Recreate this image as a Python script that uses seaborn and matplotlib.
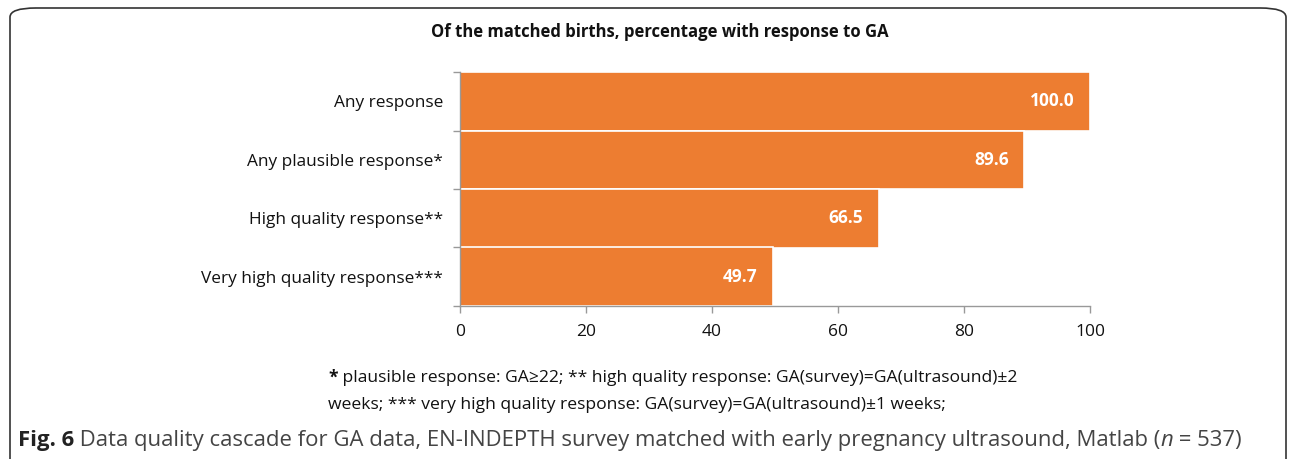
import matplotlib
matplotlib.use("Agg")
import matplotlib.pyplot as plt
import seaborn as sns
import pandas as pd
from matplotlib.patches import FancyBboxPatch

categories = ["Any response", "Any plausible response*", "High quality response**",
              "Very high quality response***"]
values = [100.0, 89.6, 66.5, 49.7]
xticks = [0, 20, 40, 60, 80, 100]

title = "Of the matched births, percentage with response to GA"
foot1 = " plausible response: GA\u226522; ** high quality response: GA(survey)=GA(ultrasound)\u00b12"
foot2 = "weeks; *** very high quality response: GA(survey)=GA(ultrasound)\u00b11 weeks;"

sns.set_theme(style="white")
plt.rcParams["font.family"] = ["Open Sans", "DejaVu Sans"]

df = pd.DataFrame({"cat": categories, "val": values})

fig = plt.figure(figsize=(12.92, 4.59), dpi=100)
ax = fig.add_axes([460/1292, 1-306/459, 630/1292, 234/459])
sns.barplot(data=df, y="cat", x="val", orient="h", color="#ED7D31", saturation=1,
            width=1.0, edgecolor="white", linewidth=1.2, ax=ax)

ax.set_xlim(0, 100)
ax.set_ylim(len(categories) - 0.5, -0.5)
ax.set_xticks(xticks)
ax.set_xticklabels([str(t) for t in xticks], fontsize=12.5, color="#111111")
ax.set_yticks(range(len(categories)))
ax.set_yticklabels(categories, fontsize=12.4, color="#111111")
ax.tick_params(axis="y", length=0, pad=12)
ax.set_yticks([i - 0.5 for i in range(len(categories) + 1)], minor=True)
ax.tick_params(axis="y", which="minor", length=5, color="#999999", width=1, left=True)
ax.tick_params(axis="x", length=5, color="#999999", width=1, bottom=True, pad=8)
ax.set_xlabel("")
ax.set_ylabel("")
for s in ["top", "right"]:
    ax.spines[s].set_visible(False)
for s in ["left", "bottom"]:
    ax.spines[s].set_color("#999999")
    ax.spines[s].set_linewidth(1)

for i, v in enumerate(values):
    ax.text(v - 2.5, i, f"{v:.1f}", ha="right", va="center", color="white",
            fontsize=12.5, fontweight="bold")

fig.text(660/1292, 1-32/459, title, ha="center", va="center", fontsize=12,
         fontweight="bold", color="#111111")

fig.text(328/1292, 1-378/459, "*", ha="left", va="center", fontsize=12.6,
         fontweight="bold", color="#111111")
fig.text(338/1292, 1-378/459, foot1, ha="left", va="center", fontsize=12.6, color="#111111")
fig.text(328/1292, 1-405/459, foot2, ha="left", va="center", fontsize=12.6, color="#111111")

cy = 1-446/459
cs = 15.9
c1 = fig.text(18/1292, cy, "Fig. 6", ha="left", va="baseline", fontsize=cs,
              fontweight="bold", color="#222222")
c2 = fig.text(0, 0, " Data quality cascade for GA data, EN-INDEPTH survey matched with early pregnancy ultrasound, Matlab (",
              fontsize=cs, color="#444444", va="baseline")
fig.canvas.draw()
r = fig.canvas.get_renderer()
bb = c1.get_window_extent(r)
c2.set_position((bb.x1 / fig.bbox.width, cy))
bb2 = c2.get_window_extent(r)
c3 = fig.text(bb2.x1 / fig.bbox.width, cy, "n", fontsize=cs, color="#444444",
              va="baseline", style="italic")
bb3 = c3.get_window_extent(r)
fig.text(bb3.x1 / fig.bbox.width, cy, " = 537)", fontsize=cs, color="#444444",
         va="baseline")

box = FancyBboxPatch((10/1292, -0.05), 1276/1292, 1 - 8/459 + 0.05,
                     boxstyle="round,pad=0,rounding_size=0.02", transform=fig.transFigure,
                     fill=False, edgecolor="#333333", linewidth=1.2, mutation_aspect=459/1292*2.8)
fig.patches.append(box)

fig.savefig("out.png", dpi=100)
